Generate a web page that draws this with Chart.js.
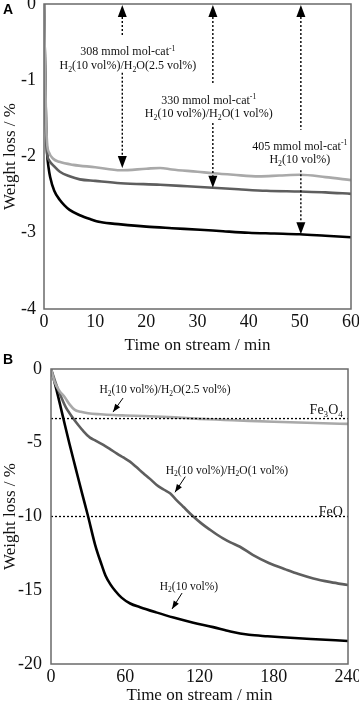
<!DOCTYPE html>
<html>
<head>
<meta charset="utf-8">
<script src="https://cdn.jsdelivr.net/npm/chart.js@4.4.1/dist/chart.umd.min.js"></script>
<style>
html, body { margin: 0; padding: 0; background: #fff; overflow: hidden; }
#wrap { position: relative; width: 359px; height: 702px; }
canvas { position: absolute; left: 0; }
#chartA { top: 0; }
#chartB { top: 350px; }
</style>
</head>
<body>
<div id="wrap">
  <canvas id="chartA" width="359" height="360" style="width:359px;height:360px"></canvas>
  <canvas id="chartB" width="359" height="360" style="width:359px;height:360px"></canvas>
</div>
<script>
// ---- panel A: first hour ----
var timeA_light = [0, 0.2, 0.4, 0.6, 1.0, 1.8, 3, 5.7, 10, 15, 20, 22.7, 25, 30, 33, 37, 42, 46, 50, 55, 60];
var lossA_light = [0, -0.8, -1.5, -1.82, -1.95, -2.03, -2.07, -2.11, -2.14, -2.18, -2.16, -2.15, -2.17, -2.2, -2.22, -2.24, -2.26, -2.25, -2.24, -2.27, -2.31];

var timeA_dark = [0, 0.2, 0.4, 0.6, 1.0, 2, 3.1, 5, 7, 10, 15, 22.7, 28, 33, 38, 43.5, 50, 55, 60];
var lossA_dark = [0, -0.8, -1.6, -1.95, -2.05, -2.13, -2.2, -2.26, -2.3, -2.32, -2.35, -2.37, -2.39, -2.41, -2.43, -2.45, -2.46, -2.47, -2.49];

var timeA_black = [0, 0.2, 0.4, 0.6, 0.9, 1.2, 2, 3.1, 4, 5, 7, 9, 11, 15, 20, 25, 30.5, 35, 40, 45, 50, 55, 60];
var lossA_black = [0, -0.8, -1.6, -1.95, -2.15, -2.27, -2.45, -2.57, -2.64, -2.7, -2.77, -2.82, -2.86, -2.89, -2.92, -2.94, -2.96, -2.98, -3.0, -3.01, -3.02, -3.04, -3.06];

var ticksA_x = [0, 10, 20, 30, 40, 50, 60];
var ticksA_y = [0, -1, -2, -3, -4];

// ---- panel B: four hours ----
var timeB_light = [0, 3, 7, 11, 15, 19, 24, 30, 40, 50, 60, 80, 100, 120, 140, 160, 180, 200, 220, 240];
var lossB_light = [0, -0.9, -1.5, -1.9, -2.4, -2.75, -2.9, -3.0, -3.07, -3.12, -3.15, -3.2, -3.28, -3.38, -3.45, -3.52, -3.58, -3.63, -3.68, -3.72];

var timeB_dark = [0, 3, 6, 9, 12, 15, 18, 22, 26, 31.5, 36, 42.3, 48, 53, 58, 63.8, 69, 74.6, 80, 85.4, 91, 96.2, 101, 106.9, 115, 122, 128.5, 134, 139, 145, 152.7, 163, 176, 190, 200, 212, 226, 240];
var lossB_dark = [0, -0.75, -1.45, -2.05, -2.6, -3.0, -3.36, -3.8, -4.2, -4.65, -4.85, -5.15, -5.45, -5.72, -5.98, -6.28, -6.65, -7.07, -7.45, -7.86, -8.17, -8.43, -8.85, -9.34, -10.0, -10.5, -10.9, -11.22, -11.48, -11.75, -12.05, -12.6, -13.15, -13.6, -13.9, -14.2, -14.45, -14.65];

var timeB_black = [0, 5, 10, 15, 20, 25, 30, 35.6, 41, 44, 48, 52, 57, 64, 72, 85, 99, 115, 131, 145, 160, 175, 190, 210, 240];
var lossB_black = [0, -1.6, -3.36, -5.1, -6.75, -8.4, -10.0, -11.9, -13.3, -14.0, -14.6, -15.05, -15.5, -15.9, -16.15, -16.5, -16.85, -17.2, -17.5, -17.8, -18.02, -18.12, -18.2, -18.3, -18.44];

var refB_time = [0, 240];
var refB_fe3o4 = [-3.36, -3.36];
var refB_feo = [-10, -10];

var ticksB_x = [0, 60, 120, 180, 240];
var ticksB_y = [0, -5, -10, -15, -20];

var LIGHT = '#a9a9a9', DARK = '#5e5e5e', BLACK = '#000000';
var SERIF = '"Liberation Serif", "Times New Roman", serif';

function pts(xs, ys) {
  return xs.map(function (x, i) { return { x: x, y: ys[i] }; });
}

function curve(xs, ys, color) {
  return {
    data: pts(xs, ys), borderColor: color, borderWidth: 2.6,
    pointRadius: 0, fill: false, cubicInterpolationMode: 'monotone'
  };
}

function refLine(xs, ys) {
  return {
    data: pts(xs, ys), borderColor: '#000', borderWidth: 1.3,
    borderDash: [2, 2], pointRadius: 0, fill: false
  };
}

// text with sub/superscripts: parts = [[text, 'sub'|'sup'|undefined], ...]
function richWidth(ctx, parts, size) {
  var w = 0;
  parts.forEach(function (p) {
    ctx.font = (p[1] ? size * 0.65 : size) + 'px ' + SERIF;
    w += ctx.measureText(p[0]).width;
  });
  return w;
}

function drawRich(ctx, parts, x, yMid, size, align) {
  var w = richWidth(ctx, parts, size);
  var cx = align === 'right' ? x - w : x - w / 2;
  var base = yMid + size * 0.34;
  ctx.textAlign = 'left';
  ctx.textBaseline = 'alphabetic';
  ctx.fillStyle = '#111';
  parts.forEach(function (p) {
    var dy = p[1] === 'sub' ? size * 0.22 : (p[1] === 'sup' ? -size * 0.4 : 0);
    ctx.font = (p[1] ? size * 0.65 : size) + 'px ' + SERIF;
    ctx.fillText(p[0], cx, base + dy);
    cx += ctx.measureText(p[0]).width;
  });
}

function head(ctx, x, y, ang, len, wid) {
  ctx.save();
  ctx.translate(x, y);
  ctx.rotate(ang);
  ctx.beginPath();
  ctx.moveTo(0, 0);
  ctx.lineTo(-len, -wid / 2);
  ctx.lineTo(-len, wid / 2);
  ctx.closePath();
  ctx.fill();
  ctx.restore();
}

function dotted(ctx, x, y0, y1) {
  ctx.save();
  ctx.setLineDash([2, 2]);
  ctx.lineWidth = 1.4;
  ctx.beginPath();
  ctx.moveTo(x, y0);
  ctx.lineTo(x, y1);
  ctx.stroke();
  ctx.restore();
}

var H2_25 = [['H'], ['2', 'sub'], ['(10 vol%)/H'], ['2', 'sub'], ['O(2.5 vol%)']];
var H2_1 = [['H'], ['2', 'sub'], ['(10 vol%)/H'], ['2', 'sub'], ['O(1 vol%)']];
var H2_only = [['H'], ['2', 'sub'], ['(10 vol%)']];

// frame + panel letter + notes
function framePlugin(letter, notes) {
  return {
    id: 'frame' + letter,
    afterDatasetsDraw: function (chart) {
      var ctx = chart.ctx, a = chart.chartArea;
      var xs = chart.scales.x, ys = chart.scales.y;
      ctx.save();
      ctx.strokeStyle = '#6a6a6a';
      ctx.lineWidth = 1.5;
      ctx.strokeRect(a.left, a.top, a.right - a.left, a.bottom - a.top);
      ctx.fillStyle = '#000';
      ctx.font = 'bold 14px "Liberation Sans", Arial, sans-serif';
      ctx.textAlign = 'left';
      ctx.textBaseline = 'middle';
      ctx.fillText(letter, 3, 10);
      ctx.strokeStyle = '#000';
      notes(ctx, xs, ys);
      ctx.restore();
    }
  };
}

function notesA(ctx, xs, ys) {
  var arrows = [
    { t: 15.3, gap: [-0.43, -0.9], end: -2.15 },
    { t: 33.0, gap: [-1.06, -1.56], end: -2.41 },
    { t: 50.2, gap: [-1.65, -2.18], end: -3.02 }
  ];
  ctx.fillStyle = '#000';
  arrows.forEach(function (r) {
    var px = xs.getPixelForValue(r.t);
    var top = ys.getPixelForValue(0) + 1;
    var bot = ys.getPixelForValue(r.end);
    head(ctx, px, top, -Math.PI / 2, 12, 9);
    head(ctx, px, bot, Math.PI / 2, 12, 9);
    dotted(ctx, px, top + 12, ys.getPixelForValue(r.gap[0]));
    dotted(ctx, px, ys.getPixelForValue(r.gap[1]), bot - 12);
  });
  var labels = [
    { t: 16.4, y: -0.62, parts: [['308 mmol mol-cat'], ['-1', 'sup']] },
    { t: 16.4, y: -0.80, parts: H2_25 },
    { t: 32.2, y: -1.26, parts: [['330 mmol mol-cat'], ['-1', 'sup']] },
    { t: 32.2, y: -1.43, parts: H2_1 },
    { t: 50.0, y: -1.86, parts: [['405 mmol mol-cat'], ['-1', 'sup']] },
    { t: 50.0, y: -2.03, parts: H2_only }
  ];
  labels.forEach(function (l) {
    drawRich(ctx, l.parts, xs.getPixelForValue(l.t), ys.getPixelForValue(l.y), 12);
  });
}

function notesB(ctx, xs, ys) {
  var arrows = [
    { from: [58.2, -1.97], to: [50.1, -2.92] },
    { from: [108.5, -7.3], to: [100.2, -8.36] },
    { from: [105.9, -15.19], to: [97.8, -16.27] }
  ];
  ctx.fillStyle = '#000';
  ctx.lineWidth = 1;
  arrows.forEach(function (r) {
    var x0 = xs.getPixelForValue(r.from[0]), y0 = ys.getPixelForValue(r.from[1]);
    var x1 = xs.getPixelForValue(r.to[0]), y1 = ys.getPixelForValue(r.to[1]);
    ctx.beginPath();
    ctx.moveTo(x0, y0);
    ctx.lineTo(x1, y1);
    ctx.stroke();
    head(ctx, x1, y1, Math.atan2(y1 - y0, x1 - x0), 8, 6);
  });
  drawRich(ctx, H2_25, xs.getPixelForValue(92.1), ys.getPixelForValue(-1.36), 11.5);
  drawRich(ctx, H2_1, xs.getPixelForValue(142.2), ys.getPixelForValue(-6.85), 11.5);
  drawRich(ctx, H2_only, xs.getPixelForValue(111.5), ys.getPixelForValue(-14.71), 11.5);
  drawRich(ctx, [['Fe'], ['3', 'sub'], ['O'], ['4', 'sub']], xs.getPixelForValue(235.8), ys.getPixelForValue(-2.71), 14, 'right');
  drawRich(ctx, [['FeO']], xs.getPixelForValue(235.8), ys.getPixelForValue(-9.63), 14, 'right');
}

function makeChart(id, datasets, s) {
  return new Chart(document.getElementById(id), {
    type: 'line',
    data: { datasets: datasets },
    plugins: [framePlugin(s.letter, s.notes)],
    options: {
      responsive: false,
      animation: false,
      events: [],
      layout: { autoPadding: false, padding: { top: s.top, right: s.right, bottom: 0, left: 0 } },
      plugins: { legend: { display: false }, tooltip: { enabled: false } },
      scales: {
        x: {
          type: 'linear', min: s.xTicks[0], max: s.xTicks[s.xTicks.length - 1],
          grid: { display: false, drawTicks: false }, border: { display: false },
          afterBuildTicks: function (sc) { sc.ticks = s.xTicks.map(function (v) { return { value: v }; }); },
          afterFit: function (sc) { sc.height = s.xHeight; sc.paddingLeft = 0; sc.paddingRight = 0; },
          ticks: { color: '#111', padding: 2, maxRotation: 0, font: { family: SERIF, size: 18 } },
          title: { display: true, text: 'Time on stream / min', color: '#111', padding: { top: 4, bottom: 4 }, font: { family: SERIF, size: 17 } }
        },
        y: {
          type: 'linear', min: s.yTicks[s.yTicks.length - 1], max: s.yTicks[0],
          grid: { display: false, drawTicks: false }, border: { display: false },
          afterBuildTicks: function (sc) { sc.ticks = s.yTicks.map(function (v) { return { value: v }; }); },
          afterFit: function (sc) { sc.width = s.yWidth; sc.paddingTop = 0; sc.paddingBottom = 0; },
          ticks: { color: '#111', padding: s.yPad, font: { family: SERIF, size: 18 } },
          title: { display: true, text: 'Weight loss / %', color: '#111', padding: { top: 0, bottom: 0 }, font: { family: SERIF, size: 17 } }
        }
      }
    }
  });
}

makeChart('chartA', [
  curve(timeA_light, lossA_light, LIGHT),
  curve(timeA_dark, lossA_dark, DARK),
  curve(timeA_black, lossA_black, BLACK)
], { letter: 'A', notes: notesA, xTicks: ticksA_x, yTicks: ticksA_y, top: 4, right: 8, xHeight: 51, yWidth: 44, yPad: 8 });

makeChart('chartB', [
  refLine(refB_time, refB_fe3o4),
  refLine(refB_time, refB_feo),
  curve(timeB_light, lossB_light, LIGHT),
  curve(timeB_dark, lossB_dark, DARK),
  curve(timeB_black, lossB_black, BLACK)
], { letter: 'B', notes: notesB, xTicks: ticksB_x, yTicks: ticksB_y, top: 19, right: 11, xHeight: 46, yWidth: 51, yPad: 9 });
</script>
</body>
</html>
